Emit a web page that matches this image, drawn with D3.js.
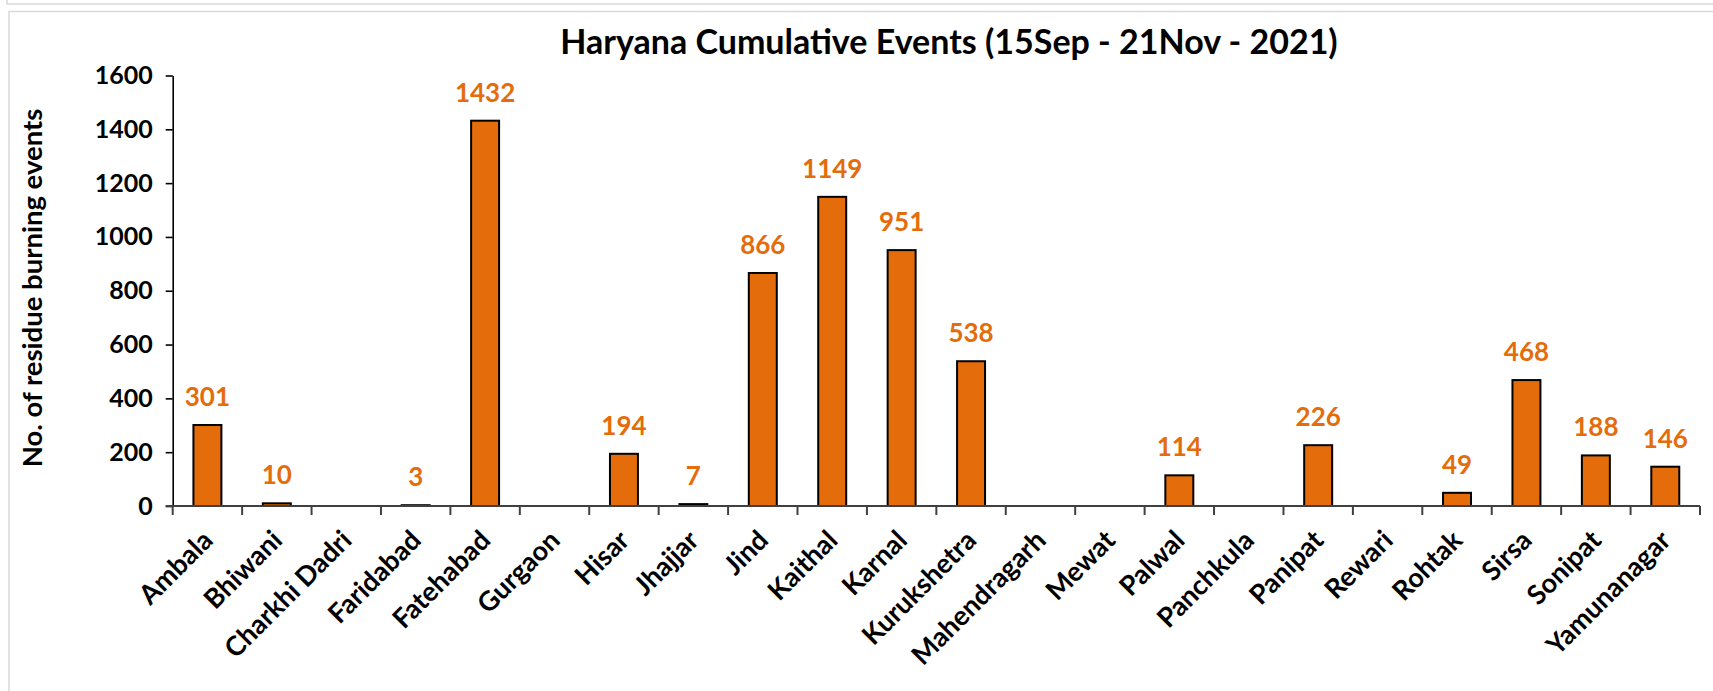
<!DOCTYPE html>
<html>
<head>
<meta charset="utf-8">
<script src="https://cdn.jsdelivr.net/npm/d3@7.9.0/dist/d3.min.js"></script>
<style>
  html, body { margin: 0; padding: 0; background: #fff; }
  svg { display: block; font-family: Lato, "Open Sans", sans-serif; font-weight: bold; }
</style>
</head>
<body>
<svg id="chart" width="1713" height="691"></svg>
<script>
// district names and cumulative residue burning events
const districts = ['Ambala', 'Bhiwani', 'Charkhi Dadri', 'Faridabad', 'Fatehabad', 'Gurgaon',
  'Hisar', 'Jhajjar', 'Jind', 'Kaithal', 'Karnal', 'Kurukshetra', 'Mahendragarh', 'Mewat',
  'Palwal', 'Panchkula', 'Panipat', 'Rewari', 'Rohtak', 'Sirsa', 'Sonipat', 'Yamunanagar'];
const events = [301, 10, 0, 3, 1432, 0, 194, 7, 866, 1149, 951, 538, 0, 0, 114, 0, 226, 0, 49, 468, 188, 146];
const yTicks = [0, 200, 400, 600, 800, 1000, 1200, 1400, 1600];

const title = 'Haryana Cumulative Events (15Sep - 21Nov - 2021)';
const yTitle = 'No. of residue burning events';

const orange = '#e46c0a';
const data = districts.map((d, i) => ({ name: d, value: events[i] }));

const svg = d3.select('#chart');

// panel borders (Excel style chart frame)
svg.append('rect')
  .attr('x', 7).attr('y', -40).attr('width', 1800).attr('height', 44)
  .attr('fill', 'none').attr('stroke', '#d9d9d9').attr('stroke-width', 1.5);
svg.append('rect')
  .attr('x', 9).attr('y', 11.5).attr('width', 1800).attr('height', 800)
  .attr('fill', '#fff').attr('stroke', '#d9d9d9').attr('stroke-width', 1.5);

const plotLeft = 172.7, plotRight = 1700, plotTop = 75.5, plotBottom = 506;

const x = d3.scaleBand()
  .domain(districts)
  .range([plotLeft, plotRight])
  .paddingInner(0.597)
  .paddingOuter(0.2985);

const y = d3.scaleLinear()
  .domain([0, 1600])
  .range([plotBottom, plotTop]);

// title
svg.append('text')
  .attr('x', 949).attr('y', 54)
  .attr('text-anchor', 'middle')
  .attr('font-size', 34)
  .attr('fill', '#000')
  .text(title);

// y axis title
svg.append('text')
  .attr('transform', `translate(42, 288) rotate(-90)`)
  .attr('text-anchor', 'middle')
  .attr('font-size', 27.5)
  .attr('fill', '#000')
  .text(yTitle);

// y axis
const yAxis = svg.append('g')
  .attr('transform', `translate(${plotLeft}, 0)`)
  .call(d3.axisLeft(y).tickValues(yTicks).tickFormat(d3.format('d'))
    .tickSize(7).tickPadding(13).tickSizeOuter(0));
yAxis.select('.domain').attr('stroke', '#000').attr('stroke-width', 1.6);
yAxis.selectAll('.tick line').attr('stroke', '#000').attr('stroke-width', 1.6);
yAxis.selectAll('.tick text')
  .attr('font-size', 25)
  .attr('font-family', 'Lato, sans-serif')
  .attr('font-weight', 'bold')
  .attr('fill', '#000');

// bars
svg.append('g')
  .selectAll('rect')
  .data(data.filter(d => d.value > 0))
  .join('rect')
  .attr('x', d => x(d.name))
  .attr('y', d => y(d.value))
  .attr('width', x.bandwidth())
  .attr('height', d => y(0) - y(d.value))
  .attr('fill', orange)
  .attr('stroke', '#000')
  .attr('stroke-width', 2);

// x axis line and category boundary ticks
const gap = x.step() * x.paddingInner() / 2;
const bounds = districts.map(d => x(d) - gap).concat([plotRight]);
const xAxis = svg.append('g');
xAxis.append('line')
  .attr('x1', plotLeft - 7).attr('x2', plotRight)
  .attr('y1', y(0)).attr('y2', y(0))
  .attr('stroke', '#404040').attr('stroke-width', 2);
xAxis.selectAll('line.tick')
  .data(bounds)
  .join('line')
  .attr('class', 'tick')
  .attr('x1', d => d).attr('x2', d => d)
  .attr('y1', y(0)).attr('y2', y(0) + 9)
  .attr('stroke', '#404040').attr('stroke-width', 2);

// category labels, rotated
xAxis.selectAll('text')
  .data(districts)
  .join('text')
  .attr('transform', d => `translate(${x(d) + x.bandwidth() / 2 + 7}, ${y(0) + 36}) rotate(-45)`)
  .attr('text-anchor', 'end')
  .attr('font-size', 27)
  .attr('fill', '#000')
  .text(d => d);

// value labels
svg.append('g')
  .selectAll('text')
  .data(data.filter(d => d.value > 0))
  .join('text')
  .attr('x', d => x(d.name) + x.bandwidth() / 2)
  .attr('y', d => y(d.value) - 19)
  .attr('text-anchor', 'middle')
  .attr('font-size', 26)
  .attr('fill', orange)
  .text(d => d.value);
</script>
</body>
</html>
